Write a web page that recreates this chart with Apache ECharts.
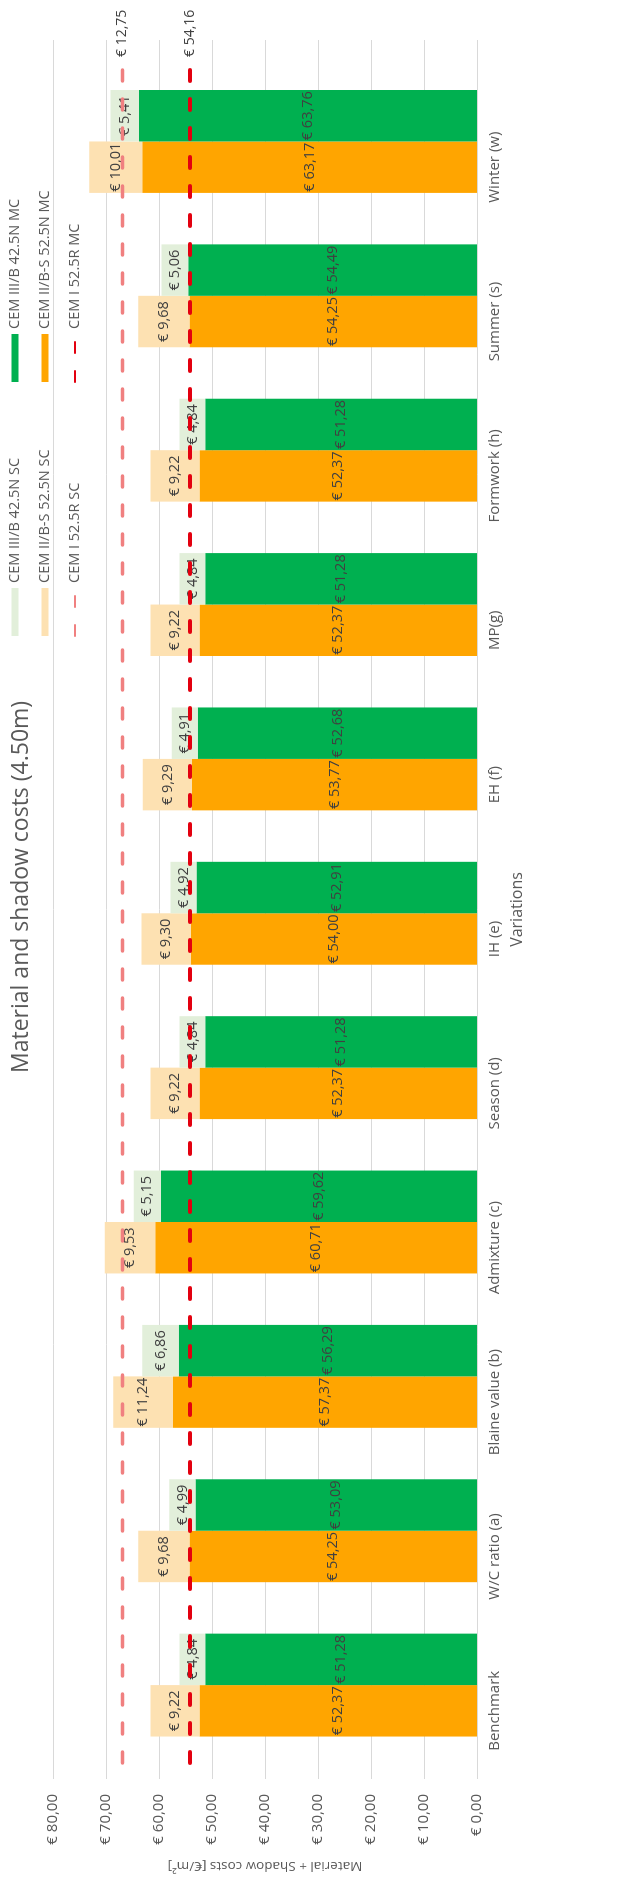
<!DOCTYPE html>
<html>
<head>
<meta charset="utf-8">
<title>Material and shadow costs (4.50m)</title>
<script src="https://cdn.jsdelivr.net/npm/echarts@6/dist/echarts.min.js"></script>
<style>
  html, body { margin: 0; padding: 0; background: #ffffff; }
  body { width: 640px; height: 1881px; overflow: hidden; position: relative; }
  /* The chart is laid out landscape and turned a quarter turn counter-clockwise */
  #chart {
    position: absolute; left: 0; top: 0;
    width: 1881px; height: 640px;
    transform-origin: 0 0;
    transform: translateY(1881px) rotate(-90deg);
  }
</style>
</head>
<body>
<div id="chart"></div>
<script>
// Variations along the category axis
const categories = ['Benchmark', 'W/C ratio (a)', 'Blaine value (b)', 'Admixture (c)', 'Season (d)',
  'IH (e)', 'EH (f)', 'MP(g)', 'Formwork (h)', 'Summer (s)', 'Winter (w)'];

// Material costs (MC) and shadow costs (SC), €/m²
const cemII_MC  = [52.37, 54.25, 57.37, 60.71, 52.37, 54.00, 53.77, 52.37, 52.37, 54.25, 63.17];
const cemII_SC  = [9.22, 9.68, 11.24, 9.53, 9.22, 9.30, 9.29, 9.22, 9.22, 9.68, 10.01];
const cemIII_MC = [51.28, 53.09, 56.29, 59.62, 51.28, 52.91, 52.68, 51.28, 51.28, 54.49, 63.76];
const cemIII_SC = [4.84, 4.99, 6.86, 5.15, 4.84, 4.92, 4.91, 4.84, 4.84, 5.06, 5.41];
// CEM I reference, the same for every variation
const cemI_MC = [54.16, 54.16, 54.16, 54.16, 54.16, 54.16, 54.16, 54.16, 54.16, 54.16, 54.16];
const cemI_SC = [12.75, 12.75, 12.75, 12.75, 12.75, 12.75, 12.75, 12.75, 12.75, 12.75, 12.75];

// Value axis
const valueMin = 0;
const valueMax = 80;
const valueStep = 10;

const FONT = 'Open Sans';
const euro = v => '€ ' + Number(v).toFixed(2).replace('.', ',');

const chart = echarts.init(document.getElementById('chart'), null, { renderer: 'canvas' });

const barLabel = {
  show: true,
  position: 'inside',
  color: '#404040',
  fontFamily: FONT,
  fontSize: 14.5,
  formatter: p => euro(p.value)
};

function barSeries(name, stack, data, color) {
  return {
    name, type: 'bar', stack, data,
    xAxisIndex: 1, yAxisIndex: 1,
    barGap: '0%', barCategoryGap: '0%',
    itemStyle: { color },
    label: barLabel,
    emphasis: { disabled: true }
  };
}

function cemILine(name, data, color, width) {
  return {
    name, type: 'line', stack: 'cemI', data,
    xAxisIndex: 2, yAxisIndex: 2,
    symbol: 'none',
    z: 5,
    lineStyle: { color, width, type: [11, 18], cap: 'round' },
    itemStyle: { color },
    endLabel: {
      show: true,
      distance: 12,
      color: '#404040',
      fontFamily: FONT,
      fontSize: 14,
      formatter: p => euro(p.value)
    },
    emphasis: { disabled: true }
  };
}

const plotTop = 53;
const plotHeight = 424;

const legendText = { color: '#595959', fontFamily: FONT, fontSize: 14.5, lineHeight: 16 };
// dashed legend keys without the centre dot
const lineKey = name => ({ name, itemStyle: { opacity: 0 } });

const option = {
  animation: false,
  textStyle: { fontFamily: FONT },
  title: {
    text: 'Material and shadow costs (4.50m)',
    left: 808,
    top: 10,
    padding: 0,
    textStyle: { color: '#595959', fontFamily: FONT, fontSize: 23, fontWeight: 'normal' }
  },
  legend: [
    {
      left: 1244, top: 7, orient: 'vertical', padding: 0,
      itemWidth: 48, itemHeight: 7, itemGap: 14,
      textStyle: legendText,
      data: [
        { name: 'CEM III/B 42.5N SC', icon: 'rect' },
        { name: 'CEM II/B-S 52.5N SC', icon: 'rect' },
        lineKey('CEM I 52.5R SC')
      ]
    },
    {
      left: 1498, top: 7, orient: 'vertical', padding: 0,
      itemWidth: 48, itemHeight: 7, itemGap: 14,
      textStyle: legendText,
      data: [
        { name: 'CEM III/B 42.5N MC', icon: 'rect' },
        { name: 'CEM II/B-S 52.5N MC', icon: 'rect' },
        lineKey('CEM I 52.5R MC')
      ]
    }
  ],
  grid: [
    // frame with gridlines and axis titles
    { left: 93, top: plotTop, width: 1748, height: plotHeight },
    // clustered stacked bars
    { left: 93, top: plotTop, width: 1698, height: plotHeight },
    // CEM I reference lines
    { left: 118, top: plotTop, width: 1694, height: plotHeight }
  ],
  xAxis: [
    {
      gridIndex: 0, type: 'category', data: categories,
      name: 'Variations', nameLocation: 'middle', nameGap: 32,
      nameTextStyle: { color: '#595959', fontFamily: FONT, fontSize: 16 },
      axisLine: { show: false }, axisTick: { show: false }, axisLabel: { show: false },
      splitLine: { show: false }
    },
    {
      gridIndex: 1, type: 'category', data: categories,
      axisLine: { show: false }, axisTick: { show: false },
      axisLabel: { color: '#595959', fontFamily: FONT, fontSize: 15, margin: 10 }
    },
    {
      gridIndex: 2, type: 'category', data: categories, boundaryGap: false, show: false
    }
  ],
  yAxis: [
    {
      gridIndex: 0, type: 'value', min: valueMin, max: valueMax, interval: valueStep,
      name: 'Material + Shadow costs [€/m²]', nameLocation: 'middle', nameGap: 80,
      nameTextStyle: { color: '#595959', fontFamily: FONT, fontSize: 13.5 },
      axisLine: { show: false }, axisTick: { show: false },
      axisLabel: { color: '#595959', fontFamily: FONT, fontSize: 15, margin: 15, formatter: v => euro(v) },
      splitLine: { lineStyle: { color: '#d9d9d9', width: 1 } }
    },
    { gridIndex: 1, type: 'value', min: valueMin, max: valueMax, interval: valueStep, show: false, splitLine: { show: false } },
    { gridIndex: 2, type: 'value', min: valueMin, max: valueMax, interval: valueStep, show: false, splitLine: { show: false } }
  ],
  series: [
    // keeps the first slot of every cluster free for CEM I, which is drawn as lines
    { name: 'CEM I 52.5R', type: 'bar', stack: 'cemI', data: [], xAxisIndex: 1, yAxisIndex: 1,
      barGap: '0%', barCategoryGap: '0%', silent: true },
    barSeries('CEM II/B-S 52.5N MC', 'cemII', cemII_MC, '#FFA500'),
    barSeries('CEM II/B-S 52.5N SC', 'cemII', cemII_SC, '#FDE1B2'),
    barSeries('CEM III/B 42.5N MC', 'cemIII', cemIII_MC, '#00B050'),
    barSeries('CEM III/B 42.5N SC', 'cemIII', cemIII_SC, '#E2EFDA'),
    cemILine('CEM I 52.5R MC', cemI_MC, '#E3000F', 4),
    cemILine('CEM I 52.5R SC', cemI_SC, '#F08080', 3.5)
  ]
};

chart.setOption(option);
</script>
</body>
</html>
